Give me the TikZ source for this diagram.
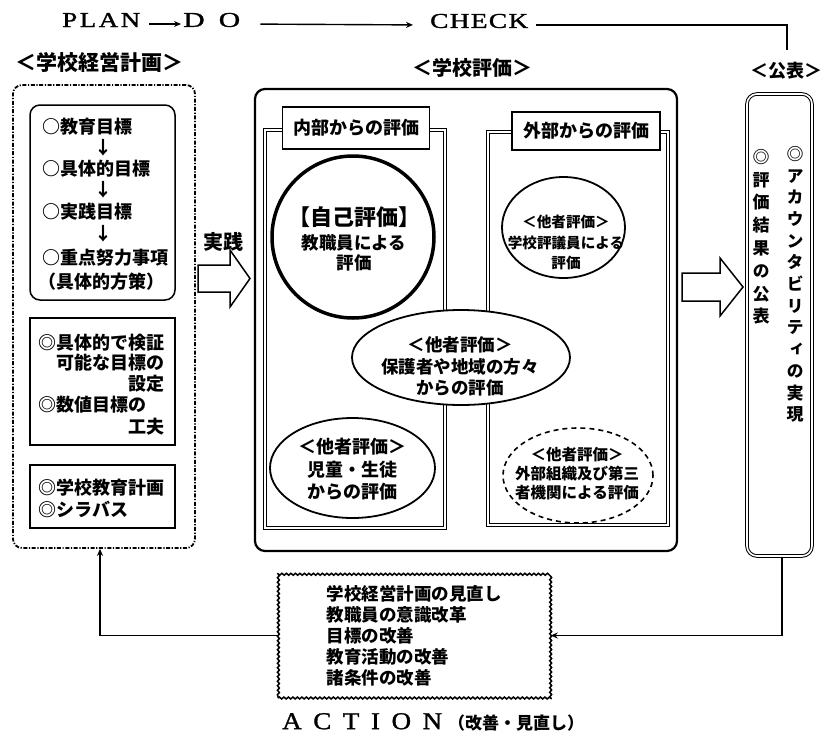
\documentclass[tikz,border=0pt]{standalone}
\usepackage{fontspec}
\usepackage{graphicx}
\usetikzlibrary{arrows.meta,shapes.geometric,decorations.pathmorphing,calc}
\newfontfamily\jp{Noto Sans CJK JP}
\newfontfamily\jpv[RawFeature=+vert]{Noto Sans CJK JP}
\newfontfamily\hdr[FakeBold=1.2]{Liberation Serif}
\begin{document}
\begin{tikzpicture}[x=1pt,y=-1pt,
  hdrtxt/.style={font=\hdr\fontsize{21}{24}\selectfont, inner sep=0pt, anchor=west},
  lbl/.style={font=\jp\bfseries\fontsize{20}{24}\selectfont, inner sep=0pt},
  jtxt/.style={font=\jp\bfseries\fontsize{18}{21}\selectfont, inner sep=0pt},
  conn/.style={line width=1.4pt},
  tip/.style={-{Stealth[length=7pt,width=6pt]}},
  dashbox/.style={draw, line width=1.8pt, dash pattern=on 4pt off 1.6pt on 1.2pt off 1.6pt, rounded corners=9pt, inner sep=0pt},
  plainbox/.style={draw, line width=1.5pt, inner sep=0pt},
  dframe/.style={draw, line width=0.9pt, double=white, double distance=1.6pt},
  evallipse/.style={draw, ellipse, fill=white, line width=1.8pt, inner sep=0pt},
  hollow/.style={draw, line width=1.5pt, fill=white, line join=miter},
]
\useasboundingbox (0,0) rectangle (822,734);

% ---------- header ----------
\node[hdrtxt] (plan) at (62,20) {\resizebox{78pt}{14pt}{P\hspace{2pt}L\hspace{2pt}A\hspace{2pt}N}};
\node[hdrtxt] (do) at (183,20) {\resizebox{57pt}{14pt}{D\hspace{10pt}O}};
\node[hdrtxt] (check) at (430,21) {\resizebox{98pt}{14pt}{C\hspace{1pt}H\hspace{1pt}E\hspace{1pt}C\hspace{1pt}K}};
\coordinate (corner) at (787,25);
\coordinate (cend) at (787,50);
\draw[conn,tip,shorten <=9pt,shorten >=2pt] ([yshift=-4pt]plan.east) -- ([yshift=-4pt]do.west);
\draw[conn,tip,shorten <=20pt,shorten >=17pt] ([yshift=-4pt]do.east) -- ([yshift=-4pt]check.west);
\draw[conn] ([yshift=-4pt,xshift=8pt]check.east) -- (corner) -- (cend);

% ---------- labels ----------
\node[lbl,font=\jp\bfseries\fontsize{21}{24}\selectfont] (plabel) at (100,62) {＜学校経営計画＞};
\node[lbl] (hlabel) at (472,68) {＜学校評価＞};
\node[lbl,font=\jp\bfseries\fontsize{18}{22}\selectfont] (klabel) at (786,71) {＜公表＞};

% ---------- left plan box ----------
\node[dashbox, minimum width=182pt, minimum height=463pt] (pbox) at (104,316.5) {};
\node[plainbox, rounded corners=10pt, minimum width=145pt, minimum height=195pt] (box1) at (102.5,202.5) {};
\node[plainbox, minimum width=145pt, minimum height=127pt] (box2) at (102.5,381.5) {};
\node[plainbox, minimum width=145pt, minimum height=63pt] (box3) at (102.5,496.5) {};

\node[jtxt,anchor=west] (g1) at (42,127) {○教育目標};
\node[jtxt] (a1) at (103,148) {↓};
\node[jtxt,anchor=west] (g2) at (42,169) {○具体的目標};
\node[jtxt] (a2) at (103,190) {↓};
\node[jtxt,anchor=west] (g3) at (42,212) {○実践目標};
\node[jtxt] (a3) at (103,234) {↓};
\node[jtxt,anchor=west] (g4) at (42,258) {○重点努力事項};
\node[jtxt,anchor=west] (g5) at (38,282) {（具体的方策）};

\node[jtxt,anchor=west] (h1) at (38,343) {◎具体的で検証};
\node[jtxt,anchor=east] (h2) at (165,363) {可能な目標の};
\node[jtxt,anchor=east] (h3) at (165,384) {設定};
\node[jtxt,anchor=west] (h4) at (38,405) {◎数値目標の};
\node[jtxt,anchor=east] (h5) at (165,427) {工夫};

\node[jtxt,anchor=west] (k1) at (38,488) {◎学校教育計画};
\node[jtxt,anchor=west] (k2) at (38,509) {◎シラバス};

% ---------- practice arrow ----------
\node[lbl] (jissen) at (223,242) {実践};
\draw[hollow] (198,265) -- (230,265) -- (230,250) -- (250,278.5) -- (230,307) -- (230,292) -- (198,292) -- cycle;

% ---------- school evaluation box ----------
\node[draw, line width=2.2pt, rounded corners=10pt, minimum width=422pt, minimum height=462pt, inner sep=0pt] (sbox) at (466,320) {};
\node[dframe, minimum width=180pt, minimum height=398pt, inner sep=0pt] (inner) at (355,329) {};
\node[dframe, minimum width=180pt, minimum height=393pt, inner sep=0pt] (outer) at (578,328.5) {};
\node[plainbox, fill=white, line width=1.6pt, minimum width=147pt, minimum height=42pt, font=\jp\bfseries\fontsize{18}{21}\selectfont] (inlabel) at (356,128) {内部からの評価};
\node[plainbox, fill=white, line width=1.6pt, minimum width=148pt, minimum height=38pt, font=\jp\bfseries\fontsize{18}{21}\selectfont] (outlabel) at (586,131) {外部からの評価};

% self evaluation circle
\node[draw, circle, line width=3.5pt, minimum size=162pt, inner sep=0pt] (self) at (353,237) {};
\node[inner sep=0pt, align=center, font=\jp\bfseries\fontsize{22}{25}\selectfont] (selft) at (354,217) {【自己評価】};
\node[inner sep=0pt, align=center, font=\jp\bfseries\fontsize{17.5}{20}\selectfont] (selfs) at (354,253) {教職員による\\評価};

% parents / community
\node[evallipse, minimum width=218pt, minimum height=95pt] (parent) at (461,357.5) {};
\node[inner sep=0pt, align=center, font=\jp\bfseries\fontsize{17.5}{21.5}\selectfont] (parentt) at (460,366.5) {＜他者評価＞\\保護者や地域の方々\\からの評価};

% pupils
\node[evallipse, minimum width=165pt, minimum height=100pt] (pupil) at (352.5,468) {};
\node[inner sep=0pt, align=center, font=\jp\bfseries\fontsize{18}{22.5}\selectfont] (pupilt) at (352,469.5) {＜他者評価＞\\児童・生徒\\からの評価};

% councillors
\node[evallipse, minimum width=123pt, minimum height=101pt] (council) at (563.5,227.5) {};
\node[inner sep=0pt, align=center, font=\jp\bfseries\fontsize{14.6}{20.5}\selectfont] (councilt) at (566,242.5) {＜他者評価＞\\学校評議員による\\評価};

% external organisations
\node[evallipse, dash pattern=on 5pt off 4pt, line width=1.6pt, minimum width=150pt, minimum height=95pt] (extorg) at (578,475.5) {};
\node[inner sep=0pt, align=center, font=\jp\bfseries\fontsize{15.5}{19}\selectfont] (extorgt) at (577,474) {＜他者評価＞\\外部組織及び第三\\者機関による評価};

% ---------- right arrow ----------
\draw[hollow] (682,273) -- (720,273) -- (720,258) -- (743,287) -- (720,316) -- (720,301) -- (682,301) -- cycle;

% ---------- publication box ----------
\node[dframe, line width=1pt, rounded corners=10pt, minimum width=65pt, minimum height=462pt] (pub) at (779.5,325) {};
\node[anchor=north, inner sep=0pt, align=center, font=\jpv\bfseries\fontsize{17}{21.7}\selectfont] (pubr) at (795,146) {◎\\ア\\カ\\ウ\\ン\\タ\\ビ\\リ\\テ\\ィ\\の\\実\\現};
\node[anchor=north, inner sep=0pt, align=center, font=\jpv\bfseries\fontsize{17}{22.8}\selectfont] (publ) at (761,149) {◎\\評\\価\\結\\果\\の\\公\\表};

% ---------- action ----------
\node[draw, line width=1.5pt, decorate, decoration={snake, amplitude=1pt, segment length=4.5pt}, minimum width=272pt, minimum height=125pt, inner sep=0pt, align=left, font=\jp\bfseries\fontsize{17.5}{21}\selectfont] (act) at (414,635.5) {学校経営計画の見直し\\教職員の意識改革\\目標の改善\\教育活動の改善\\諸条件の改善};
\node[inner sep=0pt, anchor=west] (actlabel) at (282,722) {\hdr\fontsize{21}{24}\selectfont\resizebox{160pt}{16pt}{A\hspace{9pt}C\hspace{9pt}T\hspace{9pt}I\hspace{9pt}O\hspace{9pt}N}\hspace{6pt}{\jp\bfseries\fontsize{17}{18}\selectfont （改善・見直し）}};

\draw[conn,tip] (act.west) -| ([xshift=-4pt]pbox.south);
\draw[conn,tip] ([xshift=2.5pt]pub.south) |- (act.east);
\end{tikzpicture}
\end{document}
